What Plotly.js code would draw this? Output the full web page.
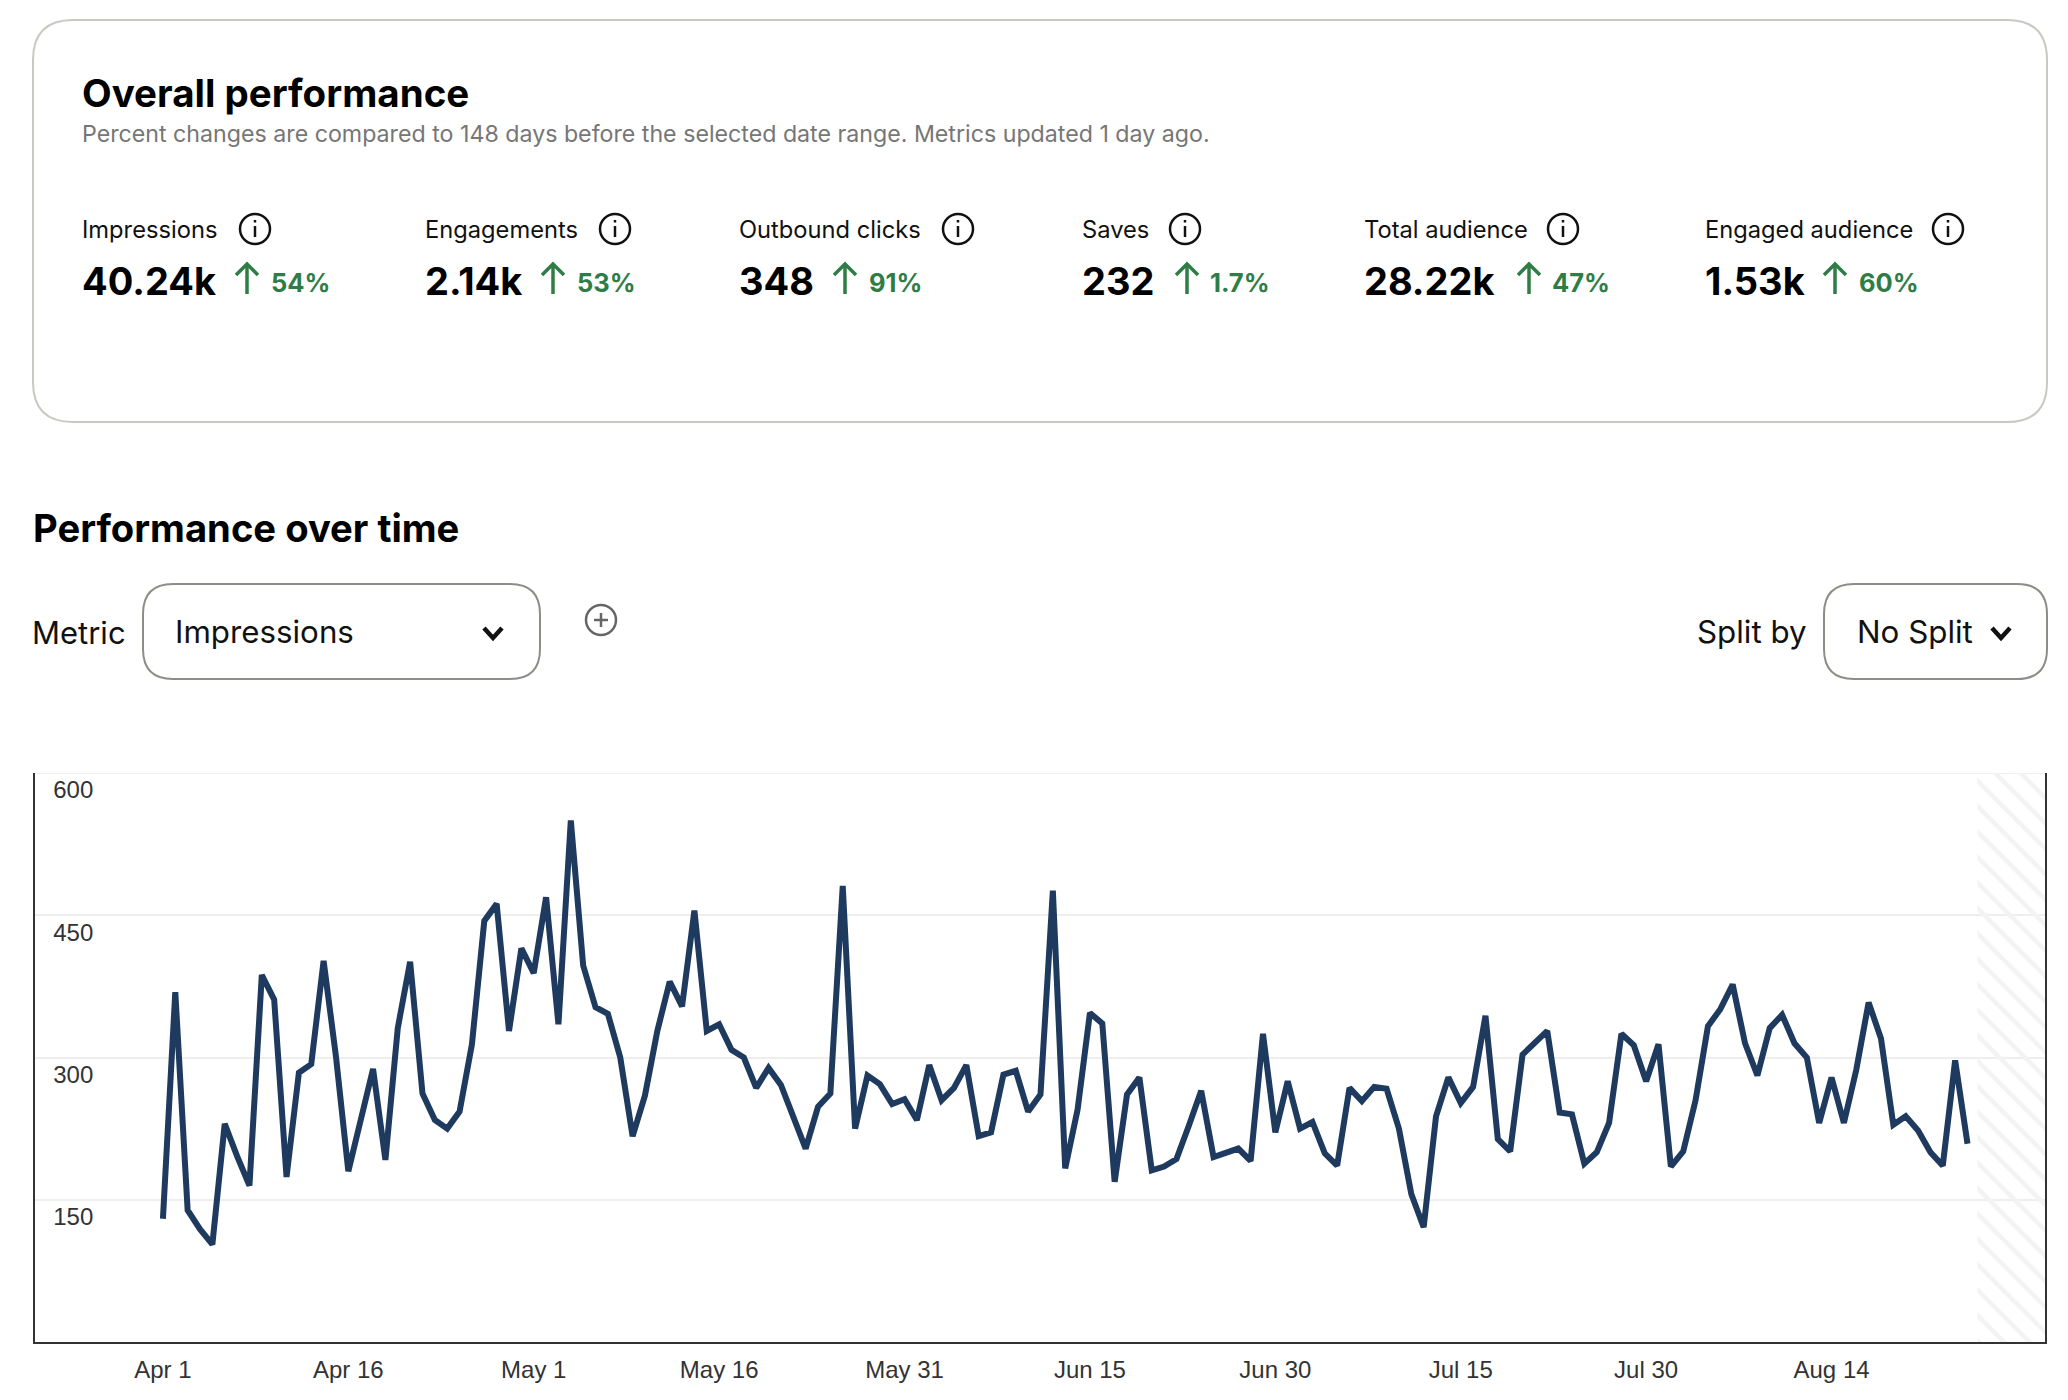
<!DOCTYPE html>
<html>
<head>
<meta charset="utf-8">
<script src="https://cdn.plot.ly/plotly-3.0.1.min.js"></script>
<style>html,body{margin:0;padding:0;background:#fff}#chart{width:2068px;height:1400px}</style>
</head>
<body>
<div id="chart"></div>
<script>
const impressions = [130,369,139,119,103,230,196,165,387,361,174,284,293,402,301,180,234,288,192,331,401,262,234,225,243,314,444,462,328,
415,389,469,335,550,397,353,346,300,217,260,328,380,354,455,328,335,308,300,268,289,271,238,204,248,262,481,225,281,272,251,256,234,292,255,268,292,217,221,282,286,
243,261,476,183,245,347,336,169,261,279,181,185,193,228,265,195,199,204,191,325,221,275,225,232,199,186,268,254,269,267,225,156,121,238,279,252,269,344,214,201,303,316,
328,242,240,188,200,231,325,313,275,314,185,201,255,333,351,377,315,281,331,345,315,300,231,279,231,287,358,320,229,238,223,200,186,297,209];
const xTickVals = ["2025-04-01","2025-04-16","2025-05-01","2025-05-16","2025-05-31","2025-06-15","2025-06-30","2025-07-15","2025-07-30","2025-08-14"];
const xTickText = ["Apr 1","Apr 16","May 1","May 16","May 31","Jun 15","Jun 30","Jul 15","Jul 30","Aug 14"];
const yTickVals = [150,300,450,600];
const metricNames = ["Impressions","Engagements","Outbound clicks","Saves","Total audience","Engaged audience"];
const metricValues = ["40.24k","2.14k","348","232","28.22k","1.53k"];
const metricChanges = ["54%","53%","91%","1.7%","47%","60%"];
const titleText = "Overall performance";
const subtitleText = "Percent changes are compared to 148 days before the selected date range. Metrics updated 1 day ago.";
const sectionText = "Performance over time";

// page layout (pixels)
const W=2068,H=1400,L=35,R=2045,T=773,B=1342;
const metricX=[81.5,424.5,739,1082,1364,1705];
const infoX=[255,615,958,1185,1563,1948];
const arrowX=[247,553,845,1187,1529,1835];
const changeX=[271,577,869,1210,1552,1859];

const DAY=86400000, start=Date.UTC(2025,3,1);
const dates=impressions.map((_,i)=>new Date(start+i*DAY).toISOString().slice(0,10));
const dayStr=d=>new Date(start+d*DAY).toISOString().slice(0,19);

const px=x=>(x-L)/(R-L), py=y=>1-(y-T)/(B-T);
const FONT="Inter, 'Open Sans', sans-serif";
const ann=[],shp=[];
function text(t,x,y,size,color,weight,anchor){
  ann.push({text:t,x:px(x),y:py(y),xref:'paper',yref:'paper',showarrow:false,xanchor:anchor||'left',yanchor:'middle',
    borderpad:0,borderwidth:0,align:anchor||'left',font:{family:FONT,size:size,color:color,weight:weight||400}});
}
function path(d,color,w,fill){
  const s=d.map(p=>p.length===1?p[0]:p[0]+px(p[1])+','+py(p[2])).join(' ');
  shp.push({type:'path',path:s,xref:'paper',yref:'paper',line:{color:color,width:w},fillcolor:fill||'rgba(0,0,0,0)',layer:'above'});
}
function circle(cx,cy,r,color,w){
  shp.push({type:'circle',xref:'paper',yref:'paper',x0:px(cx-r),x1:px(cx+r),y0:py(cy+r),y1:py(cy-r),line:{color:color,width:w},fillcolor:'rgba(0,0,0,0)',layer:'above'});
}
function rrect(x0,y0,x1,y1,r,color,w){
  const s=`M${px(x0+r)},${py(y0)} L${px(x1-r)},${py(y0)} Q${px(x1)},${py(y0)} ${px(x1)},${py(y0+r)} L${px(x1)},${py(y1-r)} Q${px(x1)},${py(y1)} ${px(x1-r)},${py(y1)} L${px(x0+r)},${py(y1)} Q${px(x0)},${py(y1)} ${px(x0)},${py(y1-r)} L${px(x0)},${py(y0+r)} Q${px(x0)},${py(y0)} ${px(x0+r)},${py(y0)} Z`;
  shp.push({type:'path',path:s,xref:'paper',yref:'paper',line:{color:color,width:w},fillcolor:'rgba(0,0,0,0)',layer:'above'});
}
function chevron(cx,cy){
  path([['M',cx-9,cy-5],['L',cx,cy+5],['L',cx+9,cy-5]],'#111',4.5);
}

rrect(33,20,2047,422,40,'#c9c9c3',2);
text(titleText,82,93,38.5,'#000',700);
text(subtitleText,82,134.5,23.2,'#767676',400);
metricNames.forEach((n,i)=>{
  text(n,metricX[i],229.5,23.7,'#111',400);
  circle(infoX[i],229,15,'#111',2.5);
  path([['M',infoX[i],226],['L',infoX[i],237]],'#111',2.5);
  path([['M',infoX[i],220],['L',infoX[i],222.5]],'#111',2.5);
  text(metricValues[i],metricX[i],281,38,'#000',700);
  const g='#2e7d46',ax=arrowX[i];
  path([['M',ax,294],['L',ax,264]],g,3.5);
  path([['M',ax-11,275],['L',ax,264],['L',ax+11,275]],g,3.5);
  text(metricChanges[i],changeX[i],282,25.5,g,700);
});
text(sectionText,32.5,527.5,38.2,'#000',700);
text("Metric",32,632,31,'#111',400);
rrect(143,584,540,679,30,'#8e8e88',2);
text("Impressions",175,632,31.3,'#111',400);
chevron(493,633);
circle(601,620,15,'#666',2.5);
path([['M',601,613],['L',601,627]],'#666',2.5);
path([['M',594,620],['L',608,620]],'#666',2.5);
text("Split by",1697,632,31.3,'#111',400);
rrect(1824,584,2047,679,30,'#8e8e88',2);
text("No Split",1857,632,31.3,'#111',400);
chevron(2001,633);

// the 600 gridline sits on the range edge, where the axis omits its grid
shp.push({type:'line',xref:'paper',yref:'y',x0:0,x1:1,y0:600,y1:600,line:{color:'#eeeeee',width:2},layer:'below'});

const hatchStart=146.8, xMin=-10.35, xMax=152.27;
const traces=[
 {x:[dayStr(hatchStart),dayStr(xMax),dayStr(xMax),dayStr(hatchStart),dayStr(hatchStart)],y:[0,0,600,600,0],type:'scatter',mode:'none',fill:'toself',
  fillcolor:'rgba(0,0,0,0)',fillpattern:{shape:'\\',fgcolor:'#f3f3f3',bgcolor:'rgba(0,0,0,0)',size:18,solidity:0.25},hoverinfo:'skip',showlegend:false},
 {x:dates,y:impressions,type:'scatter',mode:'lines',line:{color:'#1e3a5f',width:6},showlegend:false,hoverinfo:'skip'}
];
const layout={
 width:W,height:H,margin:{l:L,r:W-R,t:T,b:H-B,pad:0},paper_bgcolor:'#fff',plot_bgcolor:'#fff',showlegend:false,
 font:{family:"'Liberation Sans', Arial, sans-serif",size:24,color:'#333'},
 xaxis:{type:'date',range:[dayStr(xMin),dayStr(xMax)],tickmode:'array',tickvals:xTickVals,ticktext:xTickText,showgrid:false,zeroline:false,
   showline:true,linecolor:'#333',linewidth:2,ticks:'',ticklabelstandoff:5,tickfont:{size:24,color:'#333'}},
 yaxis:{range:[0,600],tickmode:'array',tickvals:yTickVals,ticktext:yTickVals.map(String),showgrid:true,gridcolor:'#eeeeee',gridwidth:2,zeroline:false,
   showline:true,mirror:true,linecolor:'#333',linewidth:2,ticks:'',ticklabelposition:'inside',ticklabelstandoff:20,ticklabelshift:17,tickfont:{size:24,color:'#333'}},
 annotations:ann,shapes:shp
};
Plotly.newPlot('chart',traces,layout,{displayModeBar:false,staticPlot:true,responsive:false});
</script>
</body>
</html>
